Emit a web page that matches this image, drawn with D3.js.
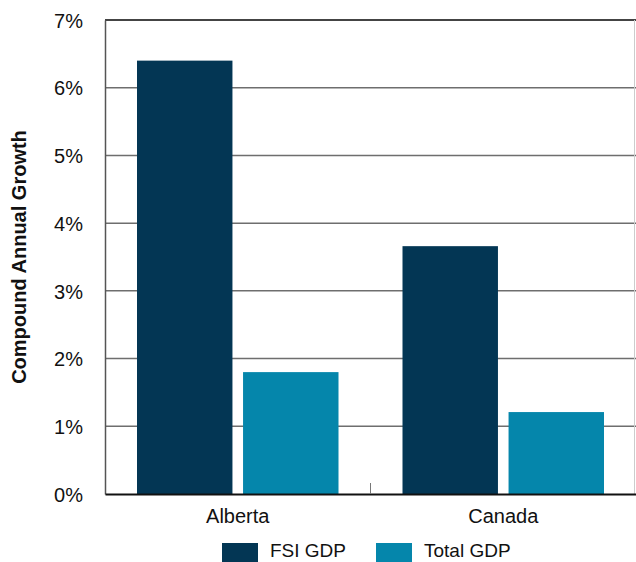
<!DOCTYPE html>
<html>
<head>
<meta charset="utf-8">
<script src="https://cdn.jsdelivr.net/npm/d3@7"></script>
<style>
  body { margin: 0; background: #fff; }
  text { font-family: "Liberation Sans", Arial, sans-serif; fill: #111; }
</style>
</head>
<body>
<div id="chart"></div>
<script>
// data
const regions = ['Alberta', 'Canada'];
const seriesNames = ['FSI GDP', 'Total GDP'];
const fsiGdp = [6.40, 3.66];
const totalGdp = [1.80, 1.21];
const yTicks = [0, 1, 2, 3, 4, 5, 6, 7];
const colors = ['#033654', '#0586ab'];

const width = 636, height = 562;
const margin = { top: 20, right: 0, bottom: 68, left: 105 };
const innerW = width - margin.left - margin.right;
const innerH = height - margin.top - margin.bottom;

const svg = d3.select('#chart').append('svg')
    .attr('width', width)
    .attr('height', height);

const g = svg.append('g')
    .attr('transform', `translate(${margin.left},${margin.top})`);

const x0 = d3.scaleBand().domain(regions).range([0, innerW]).paddingInner(0).paddingOuter(0);
const x1 = d3.scaleBand().domain(seriesNames).range([32, x0.bandwidth() - 32]).paddingInner(0.1);
const y = d3.scaleLinear().domain([0, 7]).range([innerH, 0]);

// gridlines
g.append('g')
    .selectAll('line')
    .data(yTicks.filter(t => t > 0 && t < 7))
    .enter()
    .append('line')
    .attr('x1', 0)
    .attr('x2', innerW)
    .attr('y1', d => y(d))
    .attr('y2', d => y(d))
    .attr('stroke', '#6e6e6e')
    .attr('stroke-width', 1.5);

// top and right frame
g.append('line')
    .attr('x1', 0).attr('x2', innerW)
    .attr('y1', y(7)).attr('y2', y(7))
    .attr('stroke', '#444').attr('stroke-width', 2);
g.append('line')
    .attr('x1', innerW - 1.5).attr('x2', innerW - 1.5)
    .attr('y1', y(7)).attr('y2', innerH)
    .attr('stroke', '#ccc').attr('stroke-width', 1);

// bars
const series = [fsiGdp, totalGdp];
regions.forEach((r, i) => {
    g.append('g')
        .attr('transform', `translate(${x0(r)},0)`)
        .selectAll('rect')
        .data(seriesNames.map((s, j) => ({ s, v: series[j][i], c: colors[j] })))
        .enter()
        .append('rect')
        .attr('x', d => x1(d.s))
        .attr('y', d => y(d.v))
        .attr('width', x1.bandwidth())
        .attr('height', d => innerH - y(d.v))
        .attr('fill', d => d.c);
});

// y axis
const yAxis = g.append('g')
    .call(d3.axisLeft(y).tickValues(yTicks).tickFormat(d => d + '%').tickSize(0).tickPadding(22));
yAxis.select('.domain').attr('stroke', '#555').attr('stroke-width', 1.5);
yAxis.selectAll('text')
    .style('font-size', '20px')
    .attr('dy', '0.36em');

// x axis
const xAxis = g.append('g')
    .attr('transform', `translate(0,${innerH})`)
    .call(d3.axisBottom(x0).tickSize(0).tickPadding(15));
xAxis.select('.domain').attr('stroke', '#111').attr('stroke-width', 2);
xAxis.selectAll('text').style('font-size', '20px');

// divider tick between groups
g.append('line')
    .attr('x1', x0('Canada')).attr('x2', x0('Canada'))
    .attr('y1', innerH - 11).attr('y2', innerH)
    .attr('stroke', '#777').attr('stroke-width', 1);

// y title
svg.append('text')
    .attr('transform', `translate(26,${margin.top + innerH / 2}) rotate(-90)`)
    .attr('text-anchor', 'middle')
    .style('font-size', '20px')
    .style('font-weight', 'bold')
    .text('Compound Annual Growth');

// legend
const legendX = [222, 376];
const legend = svg.append('g');
seriesNames.forEach((s, i) => {
    legend.append('rect')
        .attr('x', legendX[i]).attr('y', 543)
        .attr('width', 36).attr('height', 19)
        .attr('fill', colors[i]);
    legend.append('text')
        .attr('x', legendX[i] + 48).attr('y', 557)
        .style('font-size', '19px')
        .text(s);
});
</script>
</body>
</html>
